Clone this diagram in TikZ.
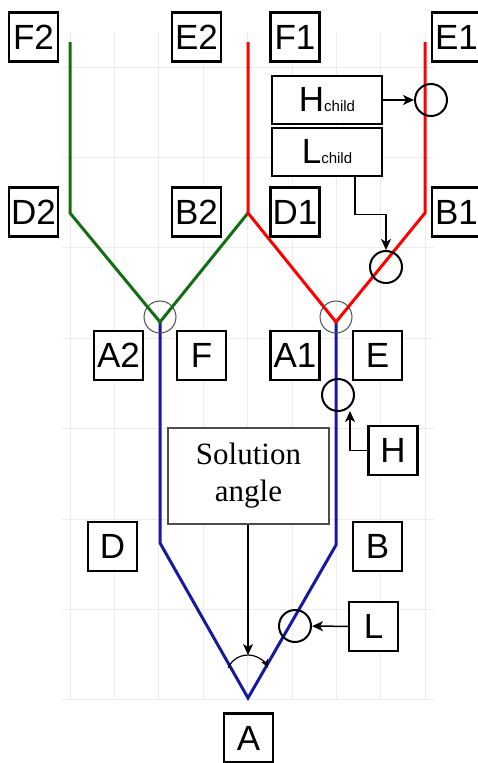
\documentclass[tikz,border=0pt]{standalone}
\usepackage{fontspec}
\setmainfont{Liberation Sans}
\newfontfamily\serifface{Liberation Serif}
\usepackage{tikz}
\definecolor{treegreen}{RGB}{18,110,18}
\definecolor{treered}{RGB}{255,0,0}
\definecolor{treeblue}{RGB}{24,24,160}
\definecolor{gridgray}{RGB}{236,236,236}
\usetikzlibrary{arrows.meta}
\pgfdeclarelayer{gridlayer}
\pgfdeclarelayer{edgelayer}
\pgfdeclarelayer{nodelayer}
\pgfsetlayers{gridlayer,edgelayer,nodelayer,main}
\tikzstyle{lbl}=[rectangle,fill=white,draw=black,line width=2.5pt,minimum width=49pt,minimum height=49pt,inner sep=0pt,font=\fontsize{35}{35}\selectfont]
\tikzstyle{childbox}=[lbl,minimum width=110pt,minimum height=48pt]
\tikzstyle{solbox}=[rectangle,fill=white,draw=black!70,line width=1.2pt,minimum width=161pt,minimum height=96pt,align=center,font=\serifface\fontsize{31}{37}\selectfont]
\tikzstyle{ring}=[circle,draw=black,line width=2pt,minimum size=32pt,inner sep=0pt]
\tikzstyle{joint}=[circle,draw=black!70,line width=1pt,minimum size=32pt,inner sep=0pt]
\tikzstyle{beam}=[line width=3pt]
\tikzstyle{link}=[-{Stealth[length=11pt,width=10pt,inset=3pt]},line width=1.5pt]
\newcommand{\chld}{{\fontsize{15}{15}\selectfont child}}

\begin{document}
\begin{tikzpicture}[x=1pt,y=-1pt]
        \useasboundingbox (0,0) rectangle (478,763);

        \begin{pgfonlayer}{gridlayer}
            \foreach \gx in {70,114.4,...,426}
                \draw [gridgray, line width=1pt] (\gx,32) -- (\gx,700);
            \foreach \gy in {67,157.4,...,701}
                \draw [gridgray, line width=1pt] (62,\gy) -- (434,\gy);
        \end{pgfonlayer}

        \coordinate (topl) at (70,42);
        \coordinate (kneel) at (70,213);
        \coordinate (vl) at (160,322);
        \coordinate (mid) at (248,213);
        \coordinate (topm) at (248,42);
        \coordinate (vr) at (336,322);
        \coordinate (kneer) at (425,213);
        \coordinate (topr) at (425,42);
        \coordinate (lowl) at (160,543);
        \coordinate (tip) at (248,698);
        \coordinate (lowr) at (336,545);
        \coordinate (angc) at (248,677);
        \coordinate (arctop) at (248,655);
        \coordinate (hend) at (350,411);

        \begin{pgfonlayer}{nodelayer}
            \node [style = lbl] (f2) at (33.5,37) {F2};
            \node [style = lbl] (e2) at (196.5,37) {E2};
            \node [style = lbl] (f1) at (295,37) {F1};
            \node [style = lbl] (e1) at (456.5,37) {E1};

            \node [style = childbox] (hchild) at (327,100) {H\chld};
            \node [style = childbox] (lchild) at (327,152) {L\chld};

            \node [style = lbl] (d2) at (33.5,212) {D2};
            \node [style = lbl] (b2) at (196.5,212) {B2};
            \node [style = lbl] (d1) at (295,212) {D1};
            \node [style = lbl] (b1) at (456.5,212) {B1};

            \node [style = lbl] (a2) at (118.5,355.5) {A2};
            \node [style = lbl] (f) at (201.5,355.5) {F};
            \node [style = lbl] (a1) at (295,355.5) {A1};
            \node [style = lbl] (e) at (377.5,355.5) {E};

            \node [style = lbl] (h) at (393,450.5) {H};
            \node [style = solbox] (sol) at (248.5,476) {Solution\\angle};

            \node [style = lbl] (d) at (112.5,546.5) {D};
            \node [style = lbl] (b) at (377.5,546.5) {B};
            \node [style = lbl] (l) at (373.5,626.5) {L};
            \node [style = lbl] (a) at (248.5,738) {A};

            \node [style = joint] (jl) at (160,317) {};
            \node [style = joint] (jr) at (336,317) {};
            \node [style = ring] (hccirc) at (431,100) {};
            \node [style = ring] (lccirc) at (386,267) {};
            \node [style = ring] (hcirc) at (338,395) {};
            \node [style = ring] (lcirc) at (295,626) {};
        \end{pgfonlayer}

        \begin{pgfonlayer}{edgelayer}
            \draw [beam, treeblue] (vl) -- (lowl) -- (tip) -- (lowr) -- (vr);
            \draw [beam, treegreen] (topl) -- (kneel) -- (vl) -- (mid);
            \draw [beam, treered] (topm) -- (mid) -- (vr) -- (kneer) -- (topr);

            \draw [link] (hchild) -- (hccirc);
            \draw [link] ([xshift=28pt]lchild.south) -- ++(0,37) -| (lccirc.north);
            \draw [link] (h.west) -| (hend);
            \draw [link] (l) -- (lcirc);
            \draw [link] (sol.south -| arctop) -- (arctop);
            \draw [-{Stealth[length=8pt,width=7pt,inset=2pt]}, line width=1.2pt] (angc) ++(205:22) arc (205:335:22);
        \end{pgfonlayer}
    \end{tikzpicture}
\end{document}
